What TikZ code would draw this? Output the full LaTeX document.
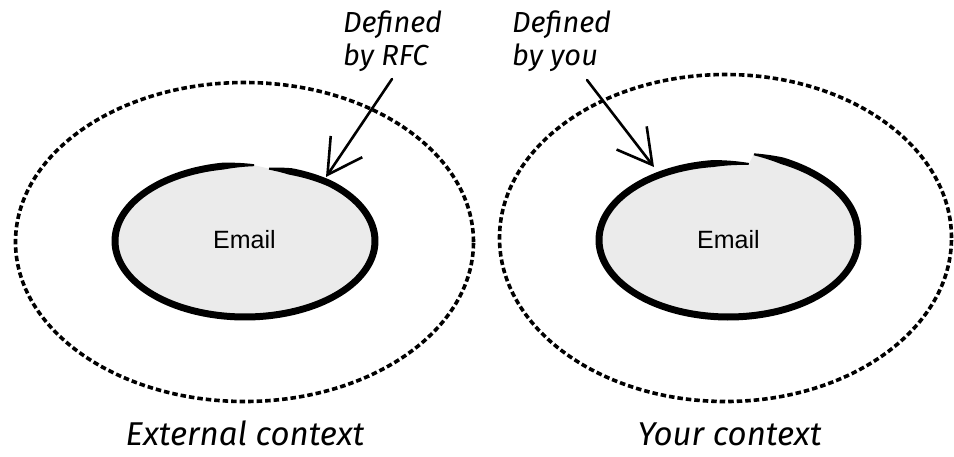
\documentclass[tikz,border=0pt]{standalone}
\usepackage{fontspec}
\setmainfont{Liberation Sans}
\newfontfamily\handfont{Fira Sans}
\usetikzlibrary{arrows.meta,shapes.geometric}
\definecolor{bubble}{RGB}{235,235,235}
\tikzset{
  context/.style={ellipse, draw=black, line width=3.6pt, dash pattern=on 5.5pt off 3pt, inner sep=0pt},
  pointer/.style={draw=black, line width=2.6pt, line cap=round,
    -{Straight Barb[length=34pt,width=38pt]}},
  note/.style={font=\handfont\itshape\fontsize{29}{33}\selectfont, align=left, anchor=base west, inner sep=0pt},
  caption/.style={font=\handfont\itshape\fontsize{33}{38}\selectfont, anchor=base, inner sep=0pt},
  term/.style={font=\fontsize{25}{30}\selectfont, anchor=base, inner sep=0pt},
}
\begin{document}
\begin{tikzpicture}[x=1pt, y=-1pt,
  declare function={
    % stroke width and shape wobble of the left (RFC) bubble
    wa(\t)=2+5*min(1,(\t+79)/10,(274-\t)/14);
    sa(\t)=1-0.03*max(0,1-(\t+79)/30);
    % stroke width and shape wobble of the right (own) bubble
    wb(\t)=2+5*min(1,(\t+80)/12,(279-\t)/16);
    sb(\t)=1+0.13*max(0,1-(\t+80)/75);
  }]
\useasboundingbox (0,0) rectangle (954,456);

% dashed context boundaries
\node[context, minimum width=458pt, minimum height=319pt] (external) at (244.5,242) {};
\node[context, minimum width=452pt, minimum height=327pt] (yours) at (725.5,238) {};

% left bubble: fill, then a tapered hand-drawn outline
\fill[bubble] plot[domain=-79:274, samples=120, variable=\t]
  ({245+130*sa(\t)*cos(\t)}, {241+76*sa(\t)*sin(\t)}) -- cycle;
\fill[black] plot[domain=-79:274, samples=180, variable=\t]
  ({245+(130*sa(\t)+0.5*wa(\t))*cos(\t)}, {241+(76*sa(\t)+0.5*wa(\t))*sin(\t)})
  -- plot[domain=274:-79, samples=180, variable=\t]
  ({245+(130*sa(\t)-0.5*wa(\t))*cos(\t)}, {241+(76*sa(\t)-0.5*wa(\t))*sin(\t)}) -- cycle;

% right bubble: the stroke overshoots where it closes
\fill[bubble] plot[domain=-80:279, samples=120, variable=\t]
  ({728.5+129.5*sb(\t)*cos(\t)}, {240+77*sb(\t)*sin(\t)}) -- cycle;
\fill[black] plot[domain=-80:279, samples=180, variable=\t]
  ({728.5+(129.5*sb(\t)+0.5*wb(\t))*cos(\t)}, {240+(77*sb(\t)+0.5*wb(\t))*sin(\t)})
  -- plot[domain=279:-80, samples=180, variable=\t]
  ({728.5+(129.5*sb(\t)-0.5*wb(\t))*cos(\t)}, {240+(77*sb(\t)-0.5*wb(\t))*sin(\t)}) -- cycle;

% bubble labels
\node[term] (emaila) at (244.5,248) {Email};
\node[term] (emailb) at (728.5,248) {Email};

% annotations (anchored at the baseline of their second line)
\node[note] (rfc) at (343,65) {Defined\\by RFC};
\node[note] (you) at (512,65) {Defined\\by you};
\coordinate (rfcfrom) at (392,79);
\coordinate (rfctip) at (326,177);
\coordinate (youfrom) at (587,80);
\coordinate (youtip) at (654,167);
\draw[pointer] (rfcfrom) -- (rfctip);
\draw[pointer] (youfrom) -- (youtip);

% context captions
\node[caption] (extcap) at (245,445) {External context};
\node[caption] (yourcap) at (729.5,445) {Your context};
\end{tikzpicture}
\end{document}
